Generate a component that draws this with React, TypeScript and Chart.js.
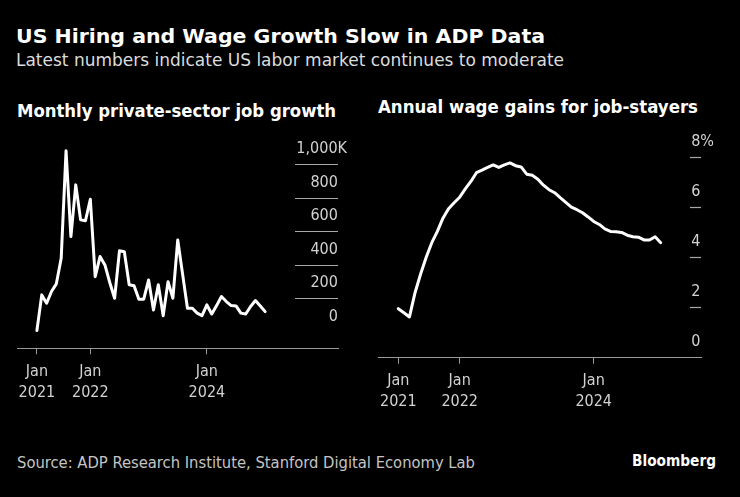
import React, { useEffect, useLayoutEffect, useRef } from "react";
import { Chart, registerables } from "chart.js";

Chart.register(...registerables);

// ---- Data (monthly, Jan 2021 – Dec 2024) ----
const startYear = 2021;
const jobGrowthK = [
  11, 224, 174, 244, 290, 443, 1085, 572, 881, 672,
  667, 795, 333, 453, 403, 298, 204, 487, 482, 284,
  279, 198, 198, 313, 134, 284, 99, 303, 204, 552,
  348, 144, 144, 115, 100, 164, 110, 160, 214, 184,
  160, 158, 115, 110, 155, 190, 158, 124,
];
const wageGainsPct = [
  1.96, 1.8, 1.63, 2.6, 3.35, 4.02, 4.6, 5.05, 5.58, 5.96,
  6.2, 6.42, 6.75, 7.05, 7.4, 7.5, 7.61, 7.71, 7.61, 7.71,
  7.79, 7.68, 7.63, 7.34, 7.3, 7.14, 6.9, 6.72, 6.6, 6.4,
  6.21, 6.02, 5.92, 5.8, 5.63, 5.45, 5.33, 5.15, 5.05, 5.04,
  5.01, 4.9, 4.84, 4.82, 4.71, 4.71, 4.84, 4.6,
];
const jobTicks = [0, 200, 400, 600, 800, 1000];
const wageTicks = [0, 2, 4, 6, 8];
const xTickYears = [2021, 2022, 2024];
const xTickMonth = "Jan";

const TICK_FONT = "'DejaVu Sans Condensed', 'Liberation Sans', sans-serif";
const HTML_FONT = "'DejaVu Sans Condensed', 'DejaVu Sans', sans-serif";
const LABEL_COLOR = "#d2d2d2";
const GRID_COLOR = "#a8a8a8";
const AXIS_COLOR = "#9a9a9a";

// months since Jan 1 2021, each value dated at month end
const toPoints = (vals: number[]) => vals.map((v, i) => ({ x: i + 1, y: v }));

function buildConfig(p: {
  values: number[];
  xMin: number;
  xMax: number;
  yMin: number;
  yMax: number;
  yTicks: number[];
  yLabel: (v: number) => string;
  yPadding: number;
  crossAlign: "near" | "far";
  gridLen: number;
  padding: { left: number; right: number; top: number; bottom: number };
}): any {
  return {
    type: "line",
    data: {
      datasets: [
        {
          data: toPoints(p.values),
          borderColor: "#ffffff",
          borderWidth: 3,
          pointRadius: 0,
          borderJoinStyle: "round",
          borderCapStyle: "round",
          tension: 0,
          clip: false,
        },
      ],
    },
    options: {
      responsive: false,
      animation: false,
      events: [],
      layout: { padding: p.padding },
      plugins: { legend: { display: false }, tooltip: { enabled: false } },
      scales: {
        x: {
          type: "linear",
          position: "bottom",
          min: p.xMin,
          max: p.xMax,
          afterBuildTicks: (s: any) => {
            s.ticks = xTickYears.map((y) => ({ value: Math.max((y - startYear) * 12, 1) }));
          },
          afterFit: (s: any) => {
            s.height = 60;
          },
          grid: {
            drawOnChartArea: false,
            drawTicks: true,
            tickLength: 6,
            color: AXIS_COLOR,
            tickColor: AXIS_COLOR,
          },
          border: { display: true, color: AXIS_COLOR, width: 1 },
          ticks: {
            autoSkip: false,
            maxRotation: 0,
            padding: 7,
            color: LABEL_COLOR,
            font: { family: TICK_FONT, size: 16, lineHeight: 1.3 },
            callback: (_v: any, i: number) => [xTickMonth, String(xTickYears[i])],
          },
        },
        y: {
          type: "linear",
          position: "right",
          min: p.yMin,
          max: p.yMax,
          afterBuildTicks: (s: any) => {
            s.ticks = p.yTicks.map((v) => ({ value: v }));
          },
          afterFit: (s: any) => {
            s.width = 0;
          },
          grid: {
            drawOnChartArea: false,
            drawTicks: true,
            tickLength: -p.gridLen,
            tickWidth: 1.2,
            tickColor: (ctx: any) =>
              ctx.tick && ctx.tick.value === 0 ? "rgba(0,0,0,0)" : GRID_COLOR,
          },
          border: { display: false },
          ticks: {
            mirror: true,
            crossAlign: p.crossAlign,
            padding: p.yPadding,
            labelOffset: -16,
            color: LABEL_COLOR,
            font: { family: TICK_FONT, size: 16 },
            callback: (v: any) => p.yLabel(Number(v)),
          },
        },
      },
    },
  };
}

function LineChart({ config, left, top, width, height }: any) {
  const ref = useRef<HTMLCanvasElement>(null);
  useEffect(() => {
    if (!ref.current) return;
    const chart = new Chart(ref.current, config);
    return () => chart.destroy();
  }, [config]);
  return (
    <canvas
      ref={ref}
      width={width}
      height={height}
      style={{ position: "absolute", left, top, width, height }}
    />
  );
}

function FitText({ text, left, baseline, size, width, weight, color }: any) {
  const ref = useRef<HTMLSpanElement>(null);
  useLayoutEffect(() => {
    const el = ref.current;
    if (!el) return;
    el.style.transform = "none";
    const w = el.getBoundingClientRect().width;
    if (w > 0) el.style.transform = `scaleX(${width / w})`;
  }, [text, width]);
  return (
    <span
      ref={ref}
      style={{
        position: "absolute",
        left,
        top: baseline - 0.846 * size,
        fontSize: size,
        lineHeight: 1,
        fontWeight: weight,
        color,
        fontFamily: HTML_FONT,
        whiteSpace: "nowrap",
        transformOrigin: "0 0",
      }}
    >
      {text}
    </span>
  );
}

const leftConfig = buildConfig({
  values: jobGrowthK,
  xMin: -3.1,
  xMax: 63.0,
  yMin: -95,
  yMax: 1100,
  yTicks: jobTicks,
  yLabel: (v) => (v === 1000 ? "1,000K" : `${v}  `),
  yPadding: 9,
  crossAlign: "near",
  gridLen: 43,
  padding: { left: 17, right: 32, top: 23.2, bottom: 16.7 },
});

const rightConfig = buildConfig({
  values: wageGainsPct,
  xMin: -2.58,
  xMax: 55.22,
  yMin: 0,
  yMax: 8,
  yTicks: wageTicks,
  yLabel: (v) => (v === 8 ? "8%" : `${v}`),
  yPadding: 13,
  crossAlign: "far",
  gridLen: 11,
  padding: { left: 8.3, right: 39, top: 32.7, bottom: 7.3 },
});

export default function App() {
  useEffect(() => {
    document.body.style.margin = "0";
    document.body.style.background = "#000";
  }, []);
  return (
    <div
      style={{
        position: "relative",
        width: 740,
        height: 497,
        background: "#000",
        overflow: "hidden",
      }}
    >
      <LineChart config={leftConfig} left={0} top={125} width={370} height={300} />
      <LineChart config={rightConfig} left={370} top={125} width={370} height={300} />
      <FitText text="US Hiring and Wage Growth Slow in ADP Data" left={16} baseline={43.3} size={19.5} width={529} weight={700} color="#ffffff" />
      <FitText text="Latest numbers indicate US labor market continues to moderate" left={16} baseline={66.7} size={17.5} width={548} weight={400} color="#dcdcdc" />
      <FitText text="Monthly private-sector job growth" left={17} baseline={117} size={17} width={319} weight={700} color="#ffffff" />
      <FitText text="Annual wage gains for job-stayers" left={378} baseline={113} size={17} width={320} weight={700} color="#ffffff" />
      <FitText text="Source: ADP Research Institute, Stanford Digital Economy Lab" left={17} baseline={469} size={15} width={458} weight={400} color="#c4c4c4" />
      <FitText text="Bloomberg" left={632} baseline={467} size={16} width={84} weight={700} color="#ffffff" />
    </div>
  );
}
